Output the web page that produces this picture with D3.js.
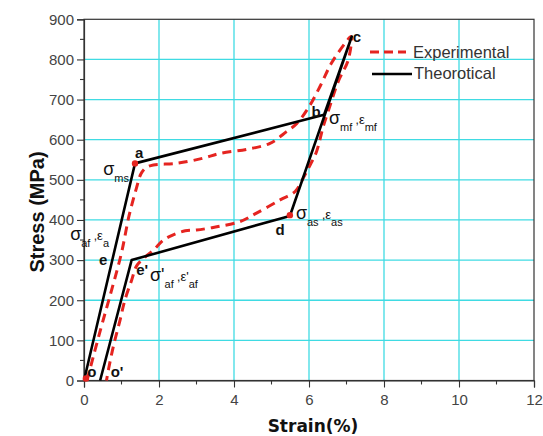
<!DOCTYPE html>
<html><head><meta charset="utf-8">
<script src="https://cdn.jsdelivr.net/npm/d3@7"></script>
<style>body{margin:0;background:#fff}</style>
</head><body>
<svg id="chart" width="543" height="436"></svg>
<script>
// ---------- data ----------
const xTickValues = [0, 2, 4, 6, 8, 10, 12];
const yTickValues = [0, 100, 200, 300, 400, 500, 600, 700, 800, 900];
const xMinorTicks = [1, 3, 5, 7, 9, 11];
const yMinorTicks = [50, 150, 250, 350, 450, 550, 650, 750, 850];

// Theoretical path: o -> a -> b -> c -> d -> e' -> o'
const theoStrain = [0, 1.36, 6.4, 7.14, 5.49, 1.27, 0.43];
const theoStress = [0, 541, 662, 857, 410, 300, 0];

// Experimental loop (loading then unloading)
const expStrain = [0.08, 0.45, 0.75, 1.0, 1.2, 1.4, 1.52, 1.65, 1.85, 2.47, 3.18, 3.63, 4.34, 4.96, 5.4, 5.67, 5.98, 6.29, 6.6, 7.0, 7.12,
                   7.05, 6.78, 6.51, 6.38, 6.2, 6.03, 5.85, 5.63, 5.23, 4.6, 4.16, 3.54, 3.0, 2.7, 2.38, 2.12, 1.85, 1.6, 1.4, 1.27, 1.09, 0.96, 0.78, 0.65, 0.6];
const expStress = [0, 130, 230, 318, 410, 480, 515, 530, 537, 541, 554, 566, 576, 591, 620, 640, 679, 732, 791, 845, 857,
                   800, 745, 670, 633, 570, 537, 505, 471, 450, 417, 396, 383, 375, 373, 363, 350, 325, 305, 285, 250, 200, 150, 84, 26, 0];

// Marked points (red dots)
const dotStrain = [1.36, 5.49, 0.05];
const dotStress = [541, 412, 5];

const seriesNames = ["Experimental", "Theorotical"];
const xTitle = "Strain(%)";
const yTitle = "Stress (MPa)";

// ---------- layout ----------
const svg = d3.select("#chart");
const L = 84, R = 534, T = 19.3, B = 380.5;
const x = d3.scaleLinear().domain([0, 12]).range([L, R]);
const y = d3.scaleLinear().domain([0, 900]).range([B, T]);
const FONT = "'Liberation Sans', Arial, sans-serif";
const RED = "#e52420";
const GRID = "#3fdbe3";

// grid
const g = svg.append("g");
g.selectAll(".gx").data(xTickValues.filter(v => v > 0 && v < 12)).enter().append("line")
  .attr("x1", d => x(d)).attr("x2", d => x(d)).attr("y1", T).attr("y2", B)
  .attr("stroke", GRID).attr("stroke-width", 1.3);
g.selectAll(".gy").data(yTickValues.filter(v => v > 0 && v < 900)).enter().append("line")
  .attr("y1", d => y(d)).attr("y2", d => y(d)).attr("x1", L).attr("x2", R)
  .attr("stroke", GRID).attr("stroke-width", 1.3);

// frame
svg.append("rect").attr("x", L).attr("y", T).attr("width", R - L).attr("height", B - T)
  .attr("fill", "none").attr("stroke", "#333").attr("stroke-width", 1.2);

// axes
const xAxis = d3.axisBottom(x).tickValues(xTickValues).tickSize(7).tickPadding(3).tickFormat(d3.format("d"));
const yAxis = d3.axisLeft(y).tickValues(yTickValues).tickSize(7).tickPadding(3).tickFormat(d3.format("d"));
const gx = svg.append("g").attr("transform", `translate(0,${B})`).call(xAxis);
const gy = svg.append("g").attr("transform", `translate(${L},0)`).call(yAxis);
[gx, gy].forEach(a => {
  a.select(".domain").attr("stroke", "#333").attr("stroke-width", 1.2);
  a.selectAll(".tick line").attr("stroke", "#333").attr("stroke-width", 1.1);
  a.selectAll(".tick text").attr("font-family", FONT).attr("font-size", 15).attr("fill", "#444");
});
gx.selectAll(".tick text").attr("dy", "0.95em");
svg.append("g").selectAll("line").data(xMinorTicks).enter().append("line")
  .attr("x1", d => x(d)).attr("x2", d => x(d)).attr("y1", B).attr("y2", B + 4)
  .attr("stroke", "#333").attr("stroke-width", 1.1);
svg.append("g").selectAll("line").data(yMinorTicks).enter().append("line")
  .attr("y1", d => y(d)).attr("y2", d => y(d)).attr("x1", L).attr("x2", L - 4)
  .attr("stroke", "#333").attr("stroke-width", 1.1);

// axis titles
svg.append("text").attr("x", (L + R) / 2 + 4).attr("y", 432).attr("text-anchor", "middle")
  .attr("font-family", "'DejaVu Sans', Verdana, sans-serif").attr("font-weight", "bold").attr("font-size", 17)
  .attr("fill", "#111").text(xTitle);
svg.append("text").attr("transform", `translate(44,212) rotate(-90)`).attr("text-anchor", "middle")
  .attr("font-family", FONT).attr("font-weight", "bold").attr("font-size", 20)
  .attr("fill", "#111").text(yTitle);

// lines
const lineGen = d3.line().x(d => x(d[0])).y(d => y(d[1]));
const theo = theoStrain.map((s, i) => [s, theoStress[i]]);
const exp = expStrain.map((s, i) => [s, expStress[i]]);

svg.append("path").datum(exp).attr("d", lineGen.curve(d3.curveCatmullRom.alpha(0.5)))
  .attr("fill", "none").attr("stroke", RED).attr("stroke-width", 3)
  .attr("stroke-dasharray", "9,6");
svg.append("path").datum(theo).attr("d", d3.line().x(d => x(d[0])).y(d => y(d[1])))
  .attr("fill", "none").attr("stroke", "#000").attr("stroke-width", 2.6).attr("stroke-linejoin", "round");

svg.append("g").selectAll("circle").data(dotStrain.map((s, i) => [s, dotStress[i]])).enter().append("circle")
  .attr("cx", d => x(d[0])).attr("cy", d => y(d[1])).attr("r", 3.2).attr("fill", RED);

// legend
const lg = svg.append("g");
lg.append("line").attr("x1", 370).attr("x2", 406).attr("y1", 52).attr("y2", 52)
  .attr("stroke", RED).attr("stroke-width", 3).attr("stroke-dasharray", "9,5");
lg.append("line").attr("x1", 372).attr("x2", 412).attr("y1", 74).attr("y2", 74)
  .attr("stroke", "#000").attr("stroke-width", 2.6);
lg.append("text").attr("x", 413).attr("y", 58).attr("font-family", FONT).attr("font-size", 16.5)
  .attr("fill", "#333").text(seriesNames[0]);
lg.append("text").attr("x", 414).attr("y", 79).attr("font-family", FONT).attr("font-size", 16.5)
  .attr("fill", "#333").text(seriesNames[1]);

// point labels (bold letters)
const letters = [
  ["a", 1.47, 554], ["b", 6.19, 657], ["c", 7.28, 843], ["d", 5.23, 362],
  ["e", 0.51, 288], ["e'", 1.55, 263], ["o", 0.21, 9], ["o'", 0.88, 9]
];
svg.append("g").selectAll("text").data(letters).enter().append("text")
  .attr("x", d => x(d[1])).attr("y", d => y(d[2])).attr("text-anchor", "middle")
  .attr("font-family", FONT).attr("font-weight", "bold").attr("font-size", 15).attr("fill", "#111")
  .text(d => d[0]);

// symbolic labels with subscripts
function sym(sx, sy, parts) {
  const t = svg.append("text").attr("x", x(sx)).attr("y", y(sy))
    .attr("font-family", FONT).attr("fill", "#111");
  let sub = false;
  parts.forEach(p => {
    const ts = t.append("tspan").text(p[0]).attr("font-size", p[1]);
    const wantSub = !!p[2];
    if (wantSub !== sub) { ts.attr("dy", wantSub ? 7 : -7); sub = wantSub; }
  });
}
sym(0.51, 512, [["σ", 18], ["ms", 11, true]]);
sym(6.53, 639, [["σ", 18], ["mf", 11, true], [" ,", 12], ["ε", 13], ["mf", 11, true]]);
sym(5.65, 402, [["σ", 18], ["as", 11, true], [" ,", 12], ["ε", 13], ["as", 11, true]]);
sym(-0.37, 350, [["σ", 18], ["af", 11, true], [" ,", 12], ["ε", 13], ["a", 11, true]]);
sym(1.76, 248, [["σ'", 18], ["af", 11, true], [" ,", 12], ["ε'", 13], ["af", 11, true]]);
</script>
</body></html>
